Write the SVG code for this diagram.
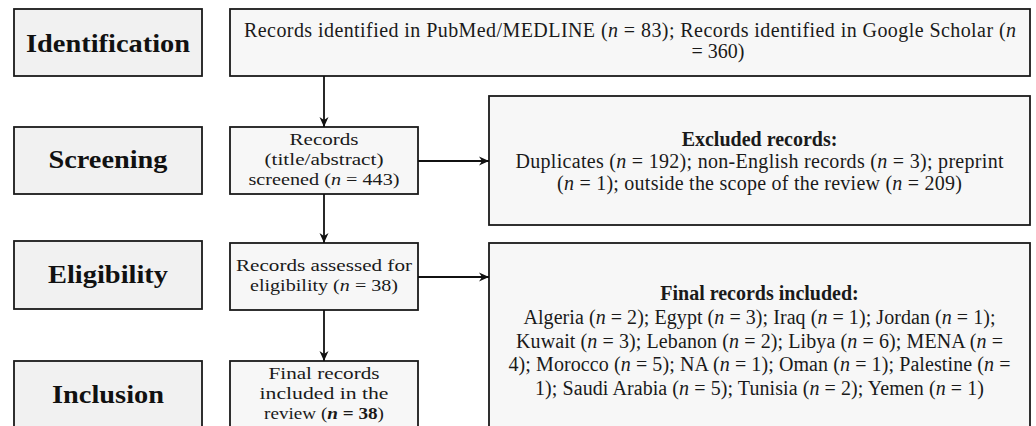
<svg xmlns="http://www.w3.org/2000/svg" width="1036" height="426" viewBox="0 0 1036 426">
  <defs>
    <style>
      .lab { fill: #f1f1f1; stroke: #1a1a1a; stroke-width: 1.8; }
      .box { fill: #f7f7f7; stroke: #1a1a1a; stroke-width: 1.8; }
      .lt { font-family: "Liberation Serif", "Times New Roman", serif; font-weight: bold; font-size: 25px; fill: #111; text-anchor: middle; }
      .t { font-family: "Liberation Serif", "Times New Roman", serif; font-size: 20px; fill: #1a1a1a; text-anchor: middle; }
      .m { font-family: "Liberation Serif", "Times New Roman", serif; font-size: 17px; fill: #1a1a1a; text-anchor: middle; }
      .b { font-weight: bold; }
      .i { font-style: italic; }
      .conn { stroke: #111; stroke-width: 1.8; fill: none; marker-end: url(#arr); }
    </style>
    <marker id="arr" markerWidth="11" markerHeight="11" refX="10" refY="5.5" orient="auto" markerUnits="userSpaceOnUse">
      <path d="M0,1 L10,5.5 L0,10 L3,5.5 Z" fill="#111"/>
    </marker>
  </defs>

  <g id="label-identification">
    <rect class="lab" x="14" y="9" width="188" height="67"/>
    <text class="lt" x="108" y="52" textLength="164" lengthAdjust="spacingAndGlyphs">Identification</text>
  </g>
  <g id="label-screening">
    <rect class="lab" x="14" y="127" width="188" height="67"/>
    <text class="lt" x="108" y="168" textLength="119" lengthAdjust="spacingAndGlyphs">Screening</text>
  </g>
  <g id="label-eligibility">
    <rect class="lab" x="14" y="241" width="188" height="68"/>
    <text class="lt" x="108" y="283" textLength="120" lengthAdjust="spacingAndGlyphs">Eligibility</text>
  </g>
  <g id="label-inclusion">
    <rect class="lab" x="14" y="361" width="188" height="68"/>
    <text class="lt" x="108" y="403" textLength="112" lengthAdjust="spacingAndGlyphs">Inclusion</text>
  </g>

  <g id="node-identified">
    <rect class="box" x="230" y="9" width="800" height="67"/>
    <text class="t" x="630" y="37" textLength="772">Records identified in PubMed/MEDLINE (<tspan class="i">n</tspan> = 83); Records identified in Google Scholar (<tspan class="i">n</tspan></text>
    <text class="t" x="718" y="58">= 360)</text>
  </g>

  <g id="node-screened">
    <rect class="box" x="230" y="127" width="188" height="67"/>
    <text class="m" x="324" y="145" textLength="69" lengthAdjust="spacingAndGlyphs">Records</text>
    <text class="m" x="324" y="165" textLength="119" lengthAdjust="spacingAndGlyphs">(title/abstract)</text>
    <text class="m" x="324" y="185" textLength="151" lengthAdjust="spacingAndGlyphs">screened (<tspan class="i">n</tspan> = 443)</text>
  </g>

  <g id="node-excluded">
    <rect class="box" x="489" y="96" width="541" height="129"/>
    <text class="t b" x="759.5" y="146">Excluded records:</text>
    <text class="t" x="759.5" y="168" textLength="488">Duplicates (<tspan class="i">n</tspan> = 192); non-English records (<tspan class="i">n</tspan> = 3); preprint</text>
    <text class="t" x="759.5" y="190" textLength="405">(<tspan class="i">n</tspan> = 1); outside the scope of the review (<tspan class="i">n</tspan> = 209)</text>
  </g>

  <g id="node-assessed">
    <rect class="box" x="230" y="243" width="188" height="67"/>
    <text class="m" x="324" y="271" textLength="176" lengthAdjust="spacingAndGlyphs">Records assessed for</text>
    <text class="m" x="324" y="291" textLength="148" lengthAdjust="spacingAndGlyphs">eligibility (<tspan class="i">n</tspan> = 38)</text>
  </g>

  <g id="node-final">
    <rect class="box" x="230" y="361" width="188" height="68"/>
    <text class="m" x="324" y="379" textLength="111" lengthAdjust="spacingAndGlyphs">Final records</text>
    <text class="m" x="324" y="399" textLength="129" lengthAdjust="spacingAndGlyphs">included in the</text>
    <text class="m" x="324" y="419" textLength="120" lengthAdjust="spacingAndGlyphs">review (<tspan class="i b">n</tspan><tspan class="b"> = 38</tspan>)</text>
  </g>

  <g id="node-included">
    <rect class="box" x="489" y="243" width="541" height="190"/>
    <text class="t b" x="759.5" y="300">Final records included:</text>
    <text class="t" x="759.5" y="324" textLength="472">Algeria (<tspan class="i">n</tspan> = 2); Egypt (<tspan class="i">n</tspan> = 3); Iraq (<tspan class="i">n</tspan> = 1); Jordan (<tspan class="i">n</tspan> = 1);</text>
    <text class="t" x="759.5" y="348" textLength="487">Kuwait (<tspan class="i">n</tspan> = 3); Lebanon (<tspan class="i">n</tspan> = 2); Libya (<tspan class="i">n</tspan> = 6); MENA (<tspan class="i">n</tspan> =</text>
    <text class="t" x="759.5" y="371" textLength="502">4); Morocco (<tspan class="i">n</tspan> = 5); NA (<tspan class="i">n</tspan> = 1); Oman (<tspan class="i">n</tspan> = 1); Palestine (<tspan class="i">n</tspan> =</text>
    <text class="t" x="759.5" y="395" textLength="449">1); Saudi Arabia (<tspan class="i">n</tspan> = 5); Tunisia (<tspan class="i">n</tspan> = 2); Yemen (<tspan class="i">n</tspan> = 1)</text>
  </g>

  <g id="connectors">
    <line class="conn" x1="324" y1="76" x2="324" y2="127"/>
    <line class="conn" x1="324" y1="194" x2="324" y2="243"/>
    <line class="conn" x1="324" y1="310" x2="324" y2="361"/>
    <line class="conn" x1="418" y1="161" x2="489" y2="161"/>
    <line class="conn" x1="418" y1="277" x2="489" y2="277"/>
  </g>
</svg>
